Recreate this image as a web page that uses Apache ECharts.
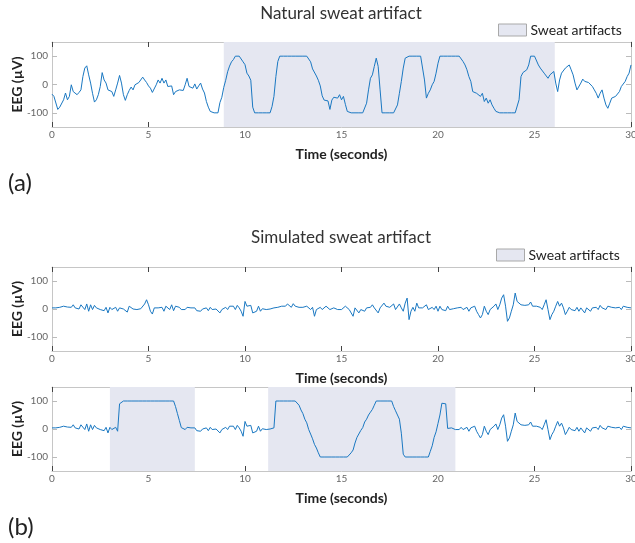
<!DOCTYPE html>
<html>
<head>
<meta charset="utf-8">
<script src="https://cdn.jsdelivr.net/npm/echarts@6.0.0/dist/echarts.min.js"></script>
<style>
  html, body { margin: 0; padding: 0; background: #fff; }
  #chart { width: 635px; height: 543px; }
</style>
</head>
<body>
<div id="chart"></div>
<script>
// sample step of the traces, seconds
const step = 0.1;

// (a) natural sweat artifact, µV, one value every 0.1 s from 0 to 30 s
const naturalEeg = [
  -34, -42, -48, -88, -80, -78, -54, -30, -54, -42,
  -1, -25, -31, -36, -28, -19, 28, 58, 66, 34,
  5, -31, -62, -54, -36, -7, 42, 16, 5, -19,
  -13, -25, -42, -19, 5, 32, 5, -36, -56, -36,
  -21, -9, -19, -1, -7, 7, 11, 26, 16, 7,
  -5, -13, -28, -33, -1, 16, 5, 22, 5, 16,
  -7, -1, -5, -36, -25, -31, -19, -13, -21, -1,
  22, -7, -9, -13, 2, -16, -5, 5, -16, -30,
  -60, -80, -95, -100, -100, -100, -100, -64, -45, -10,
  15, 45, 65, 80, 88, 100, 100, 100, 100, 80,
  70, 40, 30, 15, -80, -100, -100, -100, -100, -100,
  -100, -100, -100, -100, -78, -42, 28, 81, 100, 100,
  100, 100, 100, 100, 100, 100, 100, 100, 100, 100,
  100, 100, 100, 100, 80, 55, 60, 30, 15, -5,
  -40, -55, -60, -58, -88, -55, -45, -40, -48, -36,
  -54, -42, -70, -95, -100, -100, -100, -100, -100, -100,
  -100, -100, -100, -66, -19, 22, 34, 64, 93, 64,
  -19, -100, -100, -100, -100, -100, -100, -100, -100, -72,
  -31, 11, 58, 93, 100, 100, 100, 100, 100, 100,
  100, 100, 100, 16, -48, -31, -19, -1, 11, 40,
  75, 100, 100, 100, 100, 100, 100, 100, 100, 100,
  100, 100, 93, 81, 69, 52, 28, 11, -25, -19,
  -31, -25, -42, -31, -60, -48, -66, -54, -72, -84,
  -95, -100, -100, -100, -100, -100, -100, -100, -100, -100,
  -100, -100, -54, 28, 42, 46, 52, 69, 100, 100,
  100, 100, 69, 58, 64, 40, 46, 22, 34, 40,
  46, 5, -25, 16, 40, 46, 58, 52, 69, 52,
  34, 5, -19, -13, 5, 19, 11, 5, 7, 5,
  -7, -19, -31, -48, -31, -19, -48, -72, -84, -66,
  -48, -54, -42, -48, -25, -7, -13, 11, 28, 40,
  69
];

// (b) top: clean EEG
const cleanEeg = [
  4, 7, 4, 10, 6, 0, 10, 4, 7, 1,
  6, 15, 4, 10, 0, 15, 21, -2, 18, -8,
  15, -2, 13, 4, 6, -2, 4, -6, 6, -14,
  6, -2, -8, 6, -8, 4, 10, 0, 6, -11,
  10, 4, 0, -6, -2, -2, 1, 6, 18, 33,
  15, -8, -18, 4, -2, 4, 1, 6, -8, 10,
  4, -2, 15, -6, 10, 15, 6, -2, 4, -2,
  6, 0, 4, -2, 4, -6, 0, -8, 0, -2,
  4, -6, 6, -2, 4, 0, 6, -14, -2, 4,
  6, -2, 10, 4, 10, -2, 13, 4, -8, -26,
  27, 10, 4, 13, -14, -20, -8, 10, -8, 1,
  4, -2, 4, 0, 6, 4, 10, 6, 13, 10,
  15, 10, 18, 13, 6, 19, 10, 15, 6, 4,
  6, 1, 10, 4, -2, 6, -26, -2, 4, 6,
  -2, 4, 10, 4, -2, -8, 4, 6, -2, -8,
  -2, -8, 10, 4, -2, 1, -26, 4, 10, -14,
  -2, 4, -8, 4, -2, 6, 15, 4, 10, -14,
  4, 6, 21, 10, 15, 6, 13, 18, -2, 4,
  18, 4, -8, 21, 39, -38, -8, 6, -8, 21,
  4, -2, 4, 1, 15, -2, -8, 6, -2, 10,
  -8, 10, -2, 4, -6, 10, -2, 4, 1, -2,
  4, -2, 6, -2, 1, 6, -8, 4, -2, 10,
  -8, -20, -32, -20, 10, -8, -20, -2, -8, 10,
  18, -2, 15, 39, 51, 10, -44, -32, -8, 15,
  57, 27, 21, 15, 18, 13, 10, 15, 25, 10,
  6, 10, 4, 6, -2, 15, 33, -2, -38, -20,
  -8, 10, 27, 10, 21, 4, -20, -8, 6, -2,
  4, -6, 6, -8, 4, -2, -14, 4, -2, -8,
  4, 0, 6, -2, 13, 4, 10, -2, 10, 4,
  6, 10, 4, 10, 6, -2, 10, 4, 6, 0,
  4
];

// (b) bottom: EEG with simulated sweat artifact
const simulatedEeg = [
  4, 7, 4, 10, 6, 0, 10, 4, 7, 1,
  6, 15, 4, 10, 0, 15, 21, -2, 18, -8,
  15, -2, 13, 4, 6, -2, 4, -6, 6, -14,
  6, -2, -8, 6, -8, 90, 97, 100, 100, 100,
  100, 100, 100, 100, 100, 100, 100, 100, 100, 100,
  100, 100, 100, 100, 100, 100, 100, 100, 100, 100,
  100, 100, 100, 100, 80, 55, 30, 5, 4, -2,
  6, 0, 4, -2, 4, -6, 0, -8, 0, -2,
  4, -6, 6, -2, 4, 0, 6, -14, -2, 4,
  6, -2, 10, 4, 10, -2, 13, 4, -8, -26,
  27, 10, 4, 13, -14, -20, -8, 10, -8, 1,
  4, -2, 4, 0, 6, 4, 100, 100, 100, 100,
  100, 100, 100, 100, 100, 100, 100, 97, 85, 68,
  55, 35, 22, -2, -18, -35, -55, -68, -85, -100,
  -100, -100, -100, -100, -100, -100, -100, -100, -100, -100,
  -100, -100, -100, -100, -100, -85, -75, -50, -30, -25,
  -5, 5, 25, 35, 50, 60, 70, 85, 100, 100,
  100, 100, 100, 100, 100, 100, 100, 80, 65, 70,
  35, -15, -90, -100, -100, -100, -100, -100, -100, -100,
  -100, -100, -100, -100, -100, -100, -80, -60, -30, -10,
  20, 50, 92, 85, 90, 2, -2, 4, 1, -2,
  4, -2, 6, -2, 1, 6, -8, 4, -2, 10,
  -8, -20, -32, -20, 10, -8, -20, -2, -8, 10,
  18, -2, 15, 39, 51, 10, -44, -32, -8, 15,
  57, 27, 21, 15, 18, 13, 10, 15, 25, 10,
  6, 10, 4, 6, -2, 15, 33, -2, -38, -20,
  -8, 10, 27, 10, 21, 4, -20, -8, 6, -2,
  4, -6, 6, -8, 4, -2, -14, 4, -2, -8,
  4, 0, 6, -2, 13, 4, 10, -2, 10, 4,
  6, 10, 4, 10, 6, -2, 10, 4, 6, 0,
  4
];

// shaded artifact spans, seconds
const naturalSpans = [[8.9, 26.05]];
const simulatedSpans = [[3.0, 7.4], [11.2, 20.9]];

const yTicks = [-100, 0, 100];
const xTicks = [0, 5, 10, 15, 20, 25, 30];

const font = 'Lato, "Noto Sans", sans-serif';
const lineBlue = '#1a78c2';
const shade = '#e5e7f1';

const toPairs = vals => vals.map((v, i) => [+(i * step).toFixed(1), v]);
const toAreas = spans => spans.map(s => [{ xAxis: s[0] }, { xAxis: s[1] }]);

const grids = [
  { left: 52, right: 4, top: 42, height: 85, outerBoundsMode: 'none', containLabel: false },
  { left: 52, right: 4, top: 267, height: 84, outerBoundsMode: 'none', containLabel: false },
  { left: 52, right: 4, top: 387, height: 84, outerBoundsMode: 'none', containLabel: false },
];

const xAxes = [];
const yAxes = [];
grids.forEach((g, i) => {
  const base = {
    gridIndex: i, type: 'value', min: xTicks[0], max: xTicks[xTicks.length - 1], interval: 5,
    axisLine: { onZero: false, lineStyle: { color: '#c6c6c6', width: 1 } },
    axisTick: { inside: true, length: 5, lineStyle: { color: '#444' } },
    splitLine: { show: false },
  };
  xAxes.push(Object.assign({}, base, {
    position: 'bottom',
    axisLabel: { color: '#666', fontSize: 10, margin: 3, fontFamily: font },
    name: 'Time (seconds)', nameLocation: 'middle', nameGap: 20, nameMoveOverlap: false,
    nameTextStyle: { fontSize: 14, fontWeight: 'bold', color: '#222', fontFamily: font },
  }));
  xAxes.push(Object.assign({}, base, { position: 'top', axisLabel: { show: false } }));

  const ybase = {
    gridIndex: i, type: 'value', min: -150, max: 150,
    axisLine: { show: true, onZero: false, lineStyle: { color: '#c6c6c6', width: 1 } },
    axisTick: { show: true, inside: true, length: 5, customValues: yTicks, lineStyle: { color: '#bbb' } },
    splitLine: { show: false },
  };
  yAxes.push(Object.assign({}, ybase, {
    position: 'left',
    axisLabel: { customValues: yTicks, color: '#666', fontSize: 10, margin: 4, fontFamily: font },
    name: 'EEG (µV)', nameLocation: 'middle', nameGap: 28, nameRotate: 90, nameMoveOverlap: false,
    nameTextStyle: { fontSize: 14, fontWeight: 'bold', color: '#222', fontFamily: font },
  }));
  yAxes.push(Object.assign({}, ybase, { position: 'right', axisLabel: { show: false } }));
});

function eegSeries(name, vals, gi, spans) {
  const s = {
    name: name, type: 'line', xAxisIndex: gi * 2, yAxisIndex: gi * 2,
    data: toPairs(vals), showSymbol: false, sampling: 'none',
    lineStyle: { color: lineBlue, width: 1 }, itemStyle: { color: lineBlue },
  };
  if (spans) {
    s.markArea = { silent: true, itemStyle: { color: shade }, data: toAreas(spans) };
  }
  return s;
}

const legendItem = [{ name: 'Sweat artifacts', icon: 'rect',
  itemStyle: { color: shade, borderColor: '#a9a9a9', borderWidth: 1 } }];
const legendBase = {
  data: legendItem, itemWidth: 28, itemHeight: 12, itemGap: 4,
  textStyle: { fontSize: 14, color: '#222', fontFamily: font, padding: [0, 0, 0, -1] },
  padding: 0, selectedMode: false,
};

const chart = echarts.init(document.getElementById('chart'));
chart.setOption({
  animation: false,
  backgroundColor: '#fff',
  grid: grids,
  xAxis: xAxes,
  yAxis: yAxes,
  legend: [
    Object.assign({ left: 498, top: 23 }, legendBase),
    Object.assign({ left: 496, top: 248 }, legendBase),
  ],
  graphic: [
    { type: 'text', x: 341, y: 14, style: { text: 'Natural sweat artifact', font: '17px ' + font, fill: '#333', align: 'center', verticalAlign: 'middle' } },
    { type: 'text', x: 341, y: 238, style: { text: 'Simulated sweat artifact', font: '17px ' + font, fill: '#333', align: 'center', verticalAlign: 'middle' } },
    { type: 'text', x: 8, y: 183, style: { text: '(a)', font: '24px ' + font, fill: '#222', align: 'left', verticalAlign: 'middle' } },
    { type: 'text', x: 8, y: 527, style: { text: '(b)', font: '24px ' + font, fill: '#222', align: 'left', verticalAlign: 'middle' } },
  ],
  series: [
    { name: 'Sweat artifacts', type: 'bar', xAxisIndex: 0, yAxisIndex: 0, data: [], itemStyle: { color: shade } },
    eegSeries('Natural EEG', naturalEeg, 0, naturalSpans),
    eegSeries('Clean EEG', cleanEeg, 1, null),
    eegSeries('Simulated EEG', simulatedEeg, 2, simulatedSpans),
  ],
});
window.addEventListener('resize', () => chart.resize());
</script>
</body>
</html>
